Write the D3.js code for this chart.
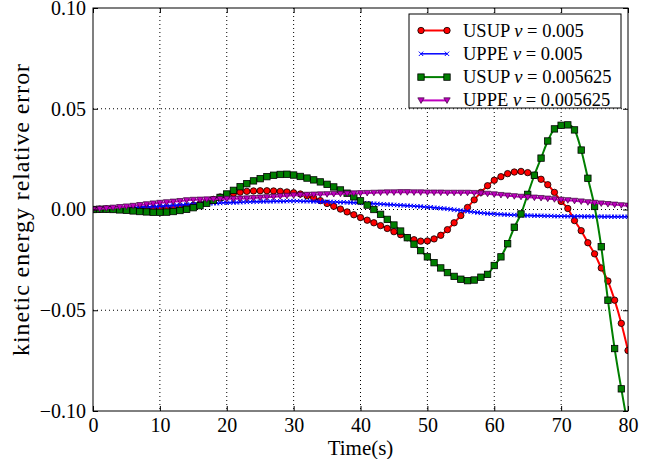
<!DOCTYPE html>
<html>
<head>
<meta charset="utf-8">
<script src="https://cdn.jsdelivr.net/npm/d3@7"></script>
<style>
html,body{margin:0;padding:0;background:#fff;}
svg{display:block;}
svg text{font-family:"Liberation Serif","Times New Roman",serif !important;fill:#000;}
</style>
</head>
<body>
<svg id="chart" width="652" height="459"></svg>
<script>
// ---- data ----
const tCoarse = d3.range(0, 81, 1);          // time (s) for USUP and UPPE nu=0.005625
const tFine = d3.range(0, 80.01, 0.5);       // time (s) for UPPE nu=0.005

const usup005 = [
 0,0.0002,0.0003,0.0003,0.0003,0.0002,0.0002,0.0002,0.0003,0.0004,
 0.0005,0.0006,0.0008,0.0010,0.0014,0.0020,0.0028,0.0038,0.0050,0.0062,
 0.0072,0.0080,0.0086,0.0090,0.0092,0.0093,0.0093,0.0092,0.0090,0.0087,
 0.0083,0.0077,0.0068,0.0057,0.0044,0.0030,0.0016,0.0002,-0.0012,-0.0026,
 -0.0040,-0.0053,-0.0066,-0.0080,-0.0094,-0.0110,-0.0125,-0.0140,-0.0150,-0.0157,
 -0.0156,-0.0146,-0.0128,-0.0100,-0.0066,-0.0030,0.0010,0.0048,0.0085,0.0118,
 0.0145,0.0163,0.0178,0.0186,0.0189,0.0183,0.0170,0.0150,0.0123,0.0085,
 0.0040,0.0005,-0.0055,-0.0105,-0.0165,-0.0220,-0.0290,-0.0355,-0.0450,-0.0565,
 -0.0700
];

const uppe005 = [
 0,0.0001,0.0002,0.0002,0.0003,0.0003,0.0004,0.0005,0.0006,0.0006,
 0.0007,0.0008,0.0009,0.0010,0.0011,0.0012,0.0013,0.0013,0.0014,0.0015,
 0.0016,0.0017,0.0018,0.0019,0.0020,0.0021,0.0022,0.0023,0.0024,0.0025,
 0.0026,0.0027,0.0028,0.0028,0.0029,0.0030,0.0031,0.0031,0.0032,0.0033,
 0.0033,0.0034,0.0035,0.0035,0.0036,0.0037,0.0037,0.0038,0.0038,0.0039,
 0.0039,0.0040,0.0040,0.0040,0.0041,0.0041,0.0041,0.0041,0.0042,0.0042,
 0.0042,0.0042,0.0042,0.0041,0.0041,0.0041,0.0040,0.0040,0.0039,0.0039,
 0.0038,0.0038,0.0037,0.0037,0.0036,0.0036,0.0035,0.0035,0.0034,0.0034,
 0.0033,0.0032,0.0031,0.0030,0.0029,0.0028,0.0027,0.0026,0.0025,0.0024,
 0.0023,0.0022,0.0021,0.0020,0.0019,0.0018,0.0017,0.0016,0.0015,0.0013,
 0.0012,0.0011,0.0009,0.0008,0.0006,0.0005,0.0003,0.0001,-0.0001,-0.0003,
 -0.0005,-0.0007,-0.0009,-0.0011,-0.0013,-0.0015,-0.0017,-0.0018,-0.0020,-0.0021,
 -0.0022,-0.0023,-0.0024,-0.0025,-0.0026,-0.0027,-0.0027,-0.0028,-0.0029,-0.0029,
 -0.0030,-0.0030,-0.0031,-0.0031,-0.0031,-0.0032,-0.0032,-0.0032,-0.0033,-0.0033,
 -0.0033,-0.0033,-0.0034,-0.0033,-0.0034,-0.0034,-0.0034,-0.0035,-0.0034,-0.0035,
 -0.0035,-0.0035,-0.0035,-0.0036,-0.0035,-0.0036,-0.0036,-0.0036,-0.0036,-0.0036,
 -0.0036
];

const usup005625 = [
 0,0.0001,0.0001,0,-0.0002,-0.0004,-0.0007,-0.0010,-0.0012,-0.0014,
 -0.0014,-0.0013,-0.0010,-0.0005,0.0001,0.0009,0.0019,0.0031,0.0045,0.0060,
 0.0077,0.0095,0.0113,0.0128,0.0142,0.0153,0.0163,0.0170,0.0174,0.0175,
 0.0171,0.0164,0.0156,0.0147,0.0137,0.0125,0.0112,0.0097,0.0081,0.0063,
 0.0043,0.0022,0.0000,-0.0024,-0.0049,-0.0077,-0.0107,-0.0140,-0.0172,-0.0204,
 -0.0235,-0.0264,-0.0290,-0.0313,-0.0332,-0.0346,-0.0353,-0.0350,-0.0336,-0.0322,
 -0.0278,-0.0235,-0.0170,-0.0088,-0.0022,0.0075,0.0170,0.0255,0.0340,0.0400,
 0.0418,0.0420,0.0395,0.0295,0.0155,0.0015,-0.0185,-0.0450,-0.0690,-0.0890,
 -0.1080
];

const uppe005625 = [
 0,0.0003,0.0006,0.0009,0.0012,0.0015,0.0018,0.0022,0.0026,0.0030,
 0.0033,0.0036,0.0039,0.0042,0.0046,0.0048,0.0049,0.0050,0.0051,0.0052,
 0.0053,0.0053,0.0054,0.0055,0.0057,0.0059,0.0061,0.0063,0.0066,0.0068,
 0.0070,0.0072,0.0073,0.0074,0.0075,0.0076,0.0077,0.0078,0.0079,0.0080,
 0.0081,0.0082,0.0083,0.0084,0.0085,0.0085,0.0086,0.0086,0.0085,0.0085,
 0.0084,0.0084,0.0084,0.0083,0.0083,0.0083,0.0083,0.0082,0.0080,0.0078,
 0.0075,0.0072,0.0069,0.0066,0.0063,0.0061,0.0059,0.0057,0.0054,0.0051,
 0.0048,0.0046,0.0043,0.0040,0.0036,0.0033,0.0030,0.0027,0.0024,0.0021,
 0.0019
];

const xTicks = [0,10,20,30,40,50,60,70,80];
const yTicks = [-0.10,-0.05,0.00,0.05,0.10];
const yTickLabels = ["\u22120.10","\u22120.05","0.00","0.05","0.10"];

const seriesNames = ["USUP","UPPE","USUP","UPPE"];
const seriesNu = ["0.005","0.005","0.005625","0.005625"];
const seriesColors = ["#ff0000","#0000ff","#007f00","#bf00bf"];
const seriesMarkers = ["circle","x","square","triangle"];

// ---- layout ----
const W = 652, H = 459;
const m = {left:93, right:24, top:8, bottom:48};
const iw = W - m.left - m.right, ih = H - m.top - m.bottom;
const SERIF = "'Liberation Serif','Times New Roman',serif";

const svg = d3.select("#chart");
const x = d3.scaleLinear().domain([0,80]).range([m.left, m.left+iw]);
const y = d3.scaleLinear().domain([-0.10,0.10]).range([m.top+ih, m.top]);

svg.append("defs").append("clipPath").attr("id","clip")
  .append("rect").attr("x",m.left).attr("y",m.top).attr("width",iw).attr("height",ih);

// grid
const grid = svg.append("g");
grid.selectAll("line.gx").data(xTicks.slice(1,-1)).join("line")
  .attr("x1",d=>x(d)).attr("x2",d=>x(d)).attr("y1",m.top).attr("y2",m.top+ih)
  .attr("stroke","#000").attr("stroke-width",1).attr("stroke-dasharray","1,3");
grid.selectAll("line.gy").data(yTicks.slice(1,-1)).join("line")
  .attr("y1",d=>y(d)).attr("y2",d=>y(d)).attr("x1",m.left).attr("x2",m.left+iw)
  .attr("stroke","#000").attr("stroke-width",1).attr("stroke-dasharray","1,3");

// series
const plot = svg.append("g").attr("clip-path","url(#clip)");
const allData = [
  {t:tCoarse, v:usup005},
  {t:tFine, v:uppe005},
  {t:tCoarse, v:usup005625},
  {t:tCoarse, v:uppe005625}
];

function drawMarker(g, type, cx, cy, color){
  if(type==="circle"){
    g.append("circle").attr("cx",cx).attr("cy",cy).attr("r",3.2)
      .attr("fill",color).attr("stroke","#000").attr("stroke-width",0.8);
  } else if(type==="square"){
    g.append("rect").attr("x",cx-3.2).attr("y",cy-3.2).attr("width",6.4).attr("height",6.4)
      .attr("fill",color).attr("stroke","#000").attr("stroke-width",0.8);
  } else if(type==="triangle"){
    const s=3.2;
    g.append("path").attr("d",`M${cx-s},${cy-s*0.8}L${cx+s},${cy-s*0.8}L${cx},${cy+s*0.95}Z`)
      .attr("fill",color).attr("stroke","#3a003a").attr("stroke-width",0.7);
  } else if(type==="x"){
    const s=2.2;
    g.append("path").attr("d",`M${cx-s},${cy-s}L${cx+s},${cy+s}M${cx-s},${cy+s}L${cx+s},${cy-s}`)
      .attr("stroke",color).attr("stroke-width",1).attr("fill","none");
  }
}

allData.forEach((s,i)=>{
  const pts = s.t.map((t,j)=>[t, s.v[j]]);
  const line = d3.line().x(d=>x(d[0])).y(d=>y(d[1])).curve(d3.curveMonotoneX);
  plot.append("path").datum(pts).attr("d",line).attr("fill","none")
    .attr("stroke",seriesColors[i]).attr("stroke-width", i===1?1.5:2);
  const mg = plot.append("g");
  pts.forEach(p=>drawMarker(mg, seriesMarkers[i], x(p[0]), y(p[1]), seriesColors[i]));
});

// frame
svg.append("rect").attr("x",m.left).attr("y",m.top).attr("width",iw).attr("height",ih)
  .attr("fill","none").attr("stroke","#000").attr("stroke-width",1);

// axes (ticks inward)
const xAxisB = d3.axisBottom(x).tickValues(xTicks).tickSize(-5).tickPadding(7).tickFormat(d3.format("d"));
const xAxisT = d3.axisTop(x).tickValues(xTicks).tickSize(-5).tickFormat("");
const yAxisL = d3.axisLeft(y).tickValues(yTicks).tickSize(-5).tickPadding(7).tickFormat((d,i)=>yTickLabels[i]);
const yAxisR = d3.axisRight(y).tickValues(yTicks).tickSize(-5).tickFormat("");

function styleAxis(g){
  g.attr("font-family", SERIF).attr("font-size", 20);
  g.select(".domain").remove();
  g.selectAll(".tick line").attr("stroke","#000").attr("stroke-width",1);
  g.selectAll(".tick text").style("font-family",SERIF).style("font-size","20px").attr("fill","#000");
}
svg.append("g").attr("transform",`translate(0,${m.top+ih})`).call(xAxisB).call(styleAxis);
svg.append("g").attr("transform",`translate(0,${m.top})`).call(xAxisT).call(styleAxis);
svg.append("g").attr("transform",`translate(${m.left},0)`).call(yAxisL).call(styleAxis);
svg.append("g").attr("transform",`translate(${m.left+iw},0)`).call(yAxisR).call(styleAxis);

// axis labels
svg.append("text").attr("x",x(40)).attr("y",455).attr("text-anchor","middle")
  .style("font-family",SERIF).style("font-size","21px").text("Time(s)");
svg.append("text").attr("transform",`translate(29,${y(0)}) rotate(-90)`)
  .attr("text-anchor","middle").style("font-family",SERIF).style("font-size","24px")
  .attr("letter-spacing",0.9)
  .text("kinetic energy relative error");

// legend
const lg = svg.append("g");
lg.append("rect").attr("x",409).attr("y",14).attr("width",212).attr("height",94)
  .attr("fill","#fff").attr("stroke","#000").attr("stroke-width",1);
seriesNames.forEach((name,i)=>{
  const ry = 30.5 + i*23.3;
  lg.append("line").attr("x1",421).attr("x2",447).attr("y1",ry).attr("y2",ry)
    .attr("stroke",seriesColors[i]).attr("stroke-width", i===1?1.5:2);
  drawMarker(lg, seriesMarkers[i], 421, ry, seriesColors[i]);
  drawMarker(lg, seriesMarkers[i], 447, ry, seriesColors[i]);
  const t = lg.append("text").attr("x",463).attr("y",ry+6)
    .style("font-family",SERIF).style("font-size","18.5px");
  t.append("tspan").text(name + " ");
  t.append("tspan").attr("font-style","italic").text("\u03bd");
  t.append("tspan").text(" = " + seriesNu[i]);
});
</script>
</body>
</html>
